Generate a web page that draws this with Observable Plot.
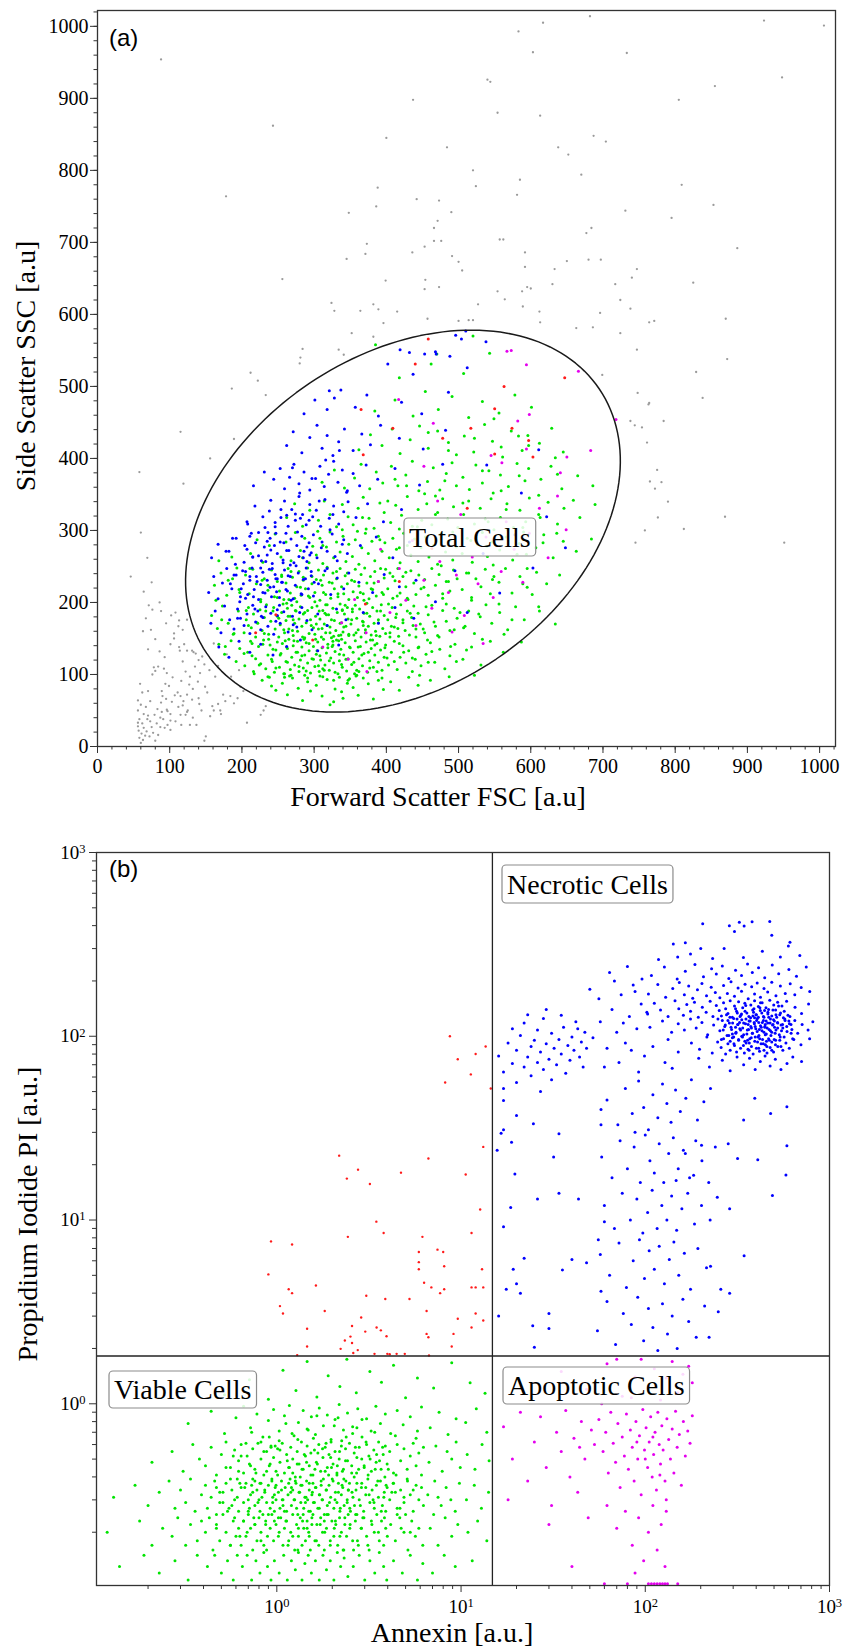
<!DOCTYPE html>
<html>
<head>
<meta charset="utf-8">
<script src="https://cdn.jsdelivr.net/npm/d3@7"></script>
<script src="https://cdn.jsdelivr.net/npm/@observablehq/plot@0.6"></script>
<style>
  html, body { margin: 0; padding: 0; background: #fff; }
  #chart svg { display: block; }
</style>
</head>
<body>
<div id="chart"></div>
<script>
// ---------------- DATA ----------------
// Panel (a): FSC / SSC, flat [x, y, x, y, ...] in a.u.
const fscTicks = [0, 100, 200, 300, 400, 500, 600, 700, 800, 900, 1000];
const sscTicks = [0, 100, 200, 300, 400, 500, 600, 700, 800, 900, 1000];
const totalGate = [423, 313, 328, 231, 34]; // centre x, centre y, semi-axis a, semi-axis b, tilt (deg)

const debrisA = [
71,196,76,190,86,200,70,135,102,182,108,186,113,175,112,167,124,176,106,157,101,142,113,138,114,133,124,133,120,142,131,133,133,131,136,129,145,125,140,120,106,150,
78,110,84,111,80,105,76,100,92,108,96,102,59,87,62,75,70,77,89,77,90,70,94,87,73,63,56,64,56,50,64,45,70,43,58,38,56,33,62,32,56,28,64,26,69,38,73,35,87,40,91,38,89,48,96,51,82,32,87,27,97,30,93,26,101,23,101,36,101,45,97,49,112,55,118,57,119,63,124,48,108,35,116,30,115,44,122,44,125,50,132,40,128,30,137,30,140,67,141,59,144,50,149,83,152,75,159,56,161,50,156,42,167,59,170,50,171,45,174,72,177,63,184,70,189,60,132,80,111,75,115,70,124,72,131,65,148,8,150,14,198,83,202,77,194,67,207,33,226,44,230,50,233,56,
58,12,61,18,57,22,63,9,66,15,60,5,68,21,72,14,77,19,80,8,84,16,75,27,79,44,83,52,67,55,60,58,88,61,95,66,103,62,107,71,99,84,104,96,116,91,122,104,128,97,135,111,142,102,148,114,155,106,163,97,139,90,127,86,118,118,93,124,86,132,80,149,74,162,95,171,88,188,67,178,63,160,64,215,75,228,118,162,161,143,179,128,167,112,185,97,196,106,
58,381,119,365,156,400,115,437,189,427,186,497,212,519,222,508,233,488,60,297,69,262,46,236,
88,954,682,1014,617,1005,923,1008,1006,1001,583,993,603,964,733,963,948,929,540,926,544,923,855,917,437,898,805,898,554,880,613,876,243,862,687,848,704,840,400,845,484,832,638,832,652,822,520,800,670,794,585,787,524,778,388,776,809,780,178,764,581,766,442,760,473,758,853,752,386,750,490,742,348,741,731,744,471,730,795,734,684,720,466,720,677,713,557,704,562,704,466,702,476,702,373,698,453,694,886,692,436,686,592,686,371,684,345,677,491,681,500,673,650,674,680,676,697,676,592,666,505,661,633,663,747,663,740,651,256,649,399,647,454,648,717,642,630,642,825,644,473,638,595,638,600,636,588,632,554,632,453,635,564,621,724,620,324,616,382,614,527,614,328,605,364,605,389,607,415,604,589,611,612,604,738,608,696,602,457,594,870,594,764,589,771,591,396,588,500,591,514,592,520,592,613,589,686,582,663,581,352,574,382,569,724,574,334,551,341,544,284,552,281,540,280,532,747,551,699,516,872,538,829,520,838,484,763,475,748,491,764,477,784,452,744,446,754,443,738,452,761,422,775,384,772,358,781,367,765,368,
745,283,812,302,869,319,776,318,758,300,790,340,951,283
];

const viableA = [
228,92,241,84,236,97,247,78,
256,88,263,72,270,95,278,81,284,64,291,90,268,99,295,77,259,96,287,99,
303,85,311,70,318,93,322,58,329,80,335,96,340,67,346,88,308,98,327,62,338,76,349,94,
354,82,361,71,368,95,375,87,382,66,389,92,396,79,358,98,
406,90,418,78,431,96,444,85,461,92,487,97,522,99,
168,142,176,128,185,147,192,118,197,136,
204,112,208,131,212,146,216,104,219,122,223,139,226,115,230,148,233,108,236,127,239,141,242,118,245,103,247,134,249,145,214,126,
252,110,254,129,256,143,258,101,261,118,263,136,265,149,267,107,269,124,271,140,273,113,275,131,277,146,279,104,281,120,283,138,285,109,287,127,289,144,291,116,293,133,295,102,297,122,299,139,260,147,286,149,
301,111,303,128,305,145,307,104,309,120,311,137,313,149,315,113,317,130,319,142,321,106,323,123,325,139,327,116,329,132,331,148,333,101,335,119,337,135,339,110,341,127,343,144,345,105,347,122,349,138,326,146,312,108,338,149,
352,114,354,131,357,147,359,106,362,122,364,139,367,112,369,129,372,145,374,103,377,119,379,136,382,110,384,127,387,143,389,117,392,134,394,106,397,124,399,141,356,101,381,148,
403,113,407,131,411,146,415,107,419,124,423,140,427,116,431,133,436,104,440,121,445,138,448,112,
455,128,461,144,467,117,474,135,481,108,488,126,495,142,506,121,518,138,531,113,544,146,562,131,587,145,
158,182,166,164,173,195,181,171,188,156,195,188,
203,158,206,176,209,193,213,165,216,184,219,152,222,171,225,190,228,161,231,179,234,197,237,156,240,174,243,188,246,163,249,181,
251,152,253,169,255,186,257,198,259,158,261,175,263,192,265,163,267,181,269,196,271,154,273,171,275,188,277,160,279,177,281,194,283,167,285,184,287,151,289,172,291,189,293,157,295,176,297,193,299,165,262,199,
301,156,302,181,304,195,306,163,308,177,310,152,312,189,314,170,316,158,318,197,320,183,322,166,324,151,326,192,328,175,330,161,332,186,334,154,336,198,338,172,340,159,342,184,344,167,346,193,348,156,303,170,315,185,327,153,339,190,347,177,
351,170,353,187,355,155,357,196,359,178,361,162,363,191,365,152,367,174,369,185,371,158,373,199,375,167,377,181,379,155,381,193,383,171,385,160,387,188,389,176,391,153,393,197,395,164,397,182,399,157,368,168,
402,176,405,158,408,193,411,166,414,184,417,153,420,197,423,172,426,161,429,188,432,155,435,179,438,195,441,163,444,185,447,170,
453,158,458,183,463,196,468,167,473,152,478,189,483,174,488,161,494,192,498,178,
507,165,514,188,522,157,530,180,538,197,546,171,557,186,568,162,579,194,591,176,612,188,634,170,
162,224,171,241,179,210,187,233,196,218,
205,238,210,212,215,246,220,226,226,204,231,233,236,217,241,245,245,208,249,229,
252,216,255,238,258,204,261,227,264,247,267,213,270,235,273,206,276,222,279,243,282,210,285,231,288,219,291,248,294,207,297,236,
301,214,303,232,306,245,308,203,311,224,313,238,316,211,318,249,321,228,323,206,326,241,328,219,331,233,333,208,336,247,338,222,341,212,343,237,346,226,348,204,
352,231,354,215,357,246,360,207,362,223,365,239,368,212,370,248,373,227,376,205,378,236,381,218,384,243,386,209,389,229,392,247,394,214,397,234,
402,219,405,241,409,206,412,230,416,247,419,213,423,236,427,222,430,204,434,244,438,227,441,211,445,238,448,219,
453,232,458,210,463,247,468,224,473,239,478,206,483,229,488,216,493,245,498,233,
505,218,511,241,518,207,524,233,531,222,537,246,544,212,549,236,556,228,565,247,574,213,585,236,595,221,608,242,622,226,640,238,
212,268,221,287,229,256,238,279,246,295,
254,263,261,284,268,258,274,297,281,272,287,289,293,255,298,278,
303,266,308,289,312,254,317,277,322,298,327,262,331,284,336,270,340,292,344,257,348,281,305,299,
353,264,357,287,362,253,366,276,371,296,375,268,380,285,384,258,389,292,394,271,398,283,360,299,
404,262,409,289,414,274,419,255,424,296,429,279,434,266,439,288,444,257,448,276,
454,291,459,263,465,279,471,253,476,296,482,270,487,285,492,259,497,277,
505,268,512,289,519,256,526,281,533,297,540,264,546,284,548,252,
557,273,566,291,575,259,584,282,594,267,590,298,607,276,618,294,631,262,645,285,663,271,684,288,
262,318,273,337,284,306,294,328,
306,314,314,341,322,322,331,305,339,336,347,319,
354,308,361,331,368,346,376,317,383,303,391,338,397,325,372,302,
406,311,413,335,421,321,429,347,436,306,444,329,449,314,418,302,
456,337,463,308,471,325,478,344,485,316,493,333,499,304,468,348,
507,322,514,341,522,309,530,331,537,316,545,344,549,301,
558,318,567,337,576,304,585,328,593,312,598,345,611,322,624,339,637,309,646,331,668,318,689,336,
311,367,328,384,342,359,356,373,365,392,377,358,386,381,395,366,
407,389,416,362,427,377,436,396,445,355,412,371,
457,368,465,387,474,356,483,379,491,394,497,362,
506,374,515,357,524,391,533,366,542,383,548,352,
558,377,569,361,581,393,592,369,597,386,614,371,628,389,643,358,665,376,686,362,
362,412,378,433,394,418,408,441,419,407,433,426,446,445,
458,414,471,438,486,422,497,405,508,431,521,409,536,447,547,424,
559,416,573,438,588,411,596,432,612,421,629,442,645,409,
384,466,412,481,437,459,454,493,472,468,491,486,514,457,533,479,556,463,578,488,601,471,
418,512,462,531,507,518,543,546,385,558,470,545,520,570,
224,113,231,157,238,96,226,201,243,135,251,178,236,224,229,142,247,109,255,236,233,188,241,121,258,162,221,172,249,207,237,149,253,127,228,231,244,193,259,101,
263,117,271,176,266,98,284,152,292,209,277,131,268,243,289,105,296,168,274,189,262,138,281,221,293,143,270,161,287,186,265,204,299,121,279,111,285,235,272,147,291,95,276,201,264,181,297,226,283,126,
304,133,312,97,318,168,326,141,333,212,307,188,321,119,337,155,309,231,329,103,316,197,302,149,335,128,324,176,311,164,339,189,306,112,331,243,319,137,327,92,313,214,336,171,301,201,322,158,338,114,317,183,308,126,334,147,325,227,314,106,
344,121,352,176,361,138,369,203,377,109,348,154,356,229,366,127,373,185,343,196,359,99,371,162,350,137,364,214,378,148,346,241,355,117,368,173,375,131,353,191,341,166,362,104,379,219,358,158,347,92,
384,141,392,188,401,123,409,236,416,164,387,104,396,211,405,152,413,179,383,227,398,137,411,118,389,172,403,198,418,143,394,95,407,167,386,154,415,209,399,246,
424,131,433,185,441,152,452,221,458,117,427,242,437,168,446,99,455,194,429,206,444,137,451,163,436,123,423,176,457,148,
466,173,478,212,489,139,502,186,514,241,471,154,486,229,497,118,509,167,518,203,463,132,483,198,494,162,511,134,476,251,
528,184,547,232,563,156,581,267,602,211,539,278,556,198,574,176,595,247,617,283,533,149,568,301,589,226,611,194,
164,203,172,176,181,231,189,157,197,214,206,189,214,143,168,258,186,263,203,129,211,247,177,139,193,248,217,101,209,168,
284,262,312,279,339,301,367,318,391,287,418,276,443,305,468,322,492,298,517,286,541,312,566,329,589,304,613,318,636,296,659,342,402,341,428,362,453,351,481,369,506,338,533,383,559,355,584,376,611,349,637,378,486,411,522,428,561,402,597,418,634,401,458,436,549,455,583,431
];

const necroticA = [
168,138,182,124,196,146,211,131,226,142,243,127,262,139,281,148,305,133,334,141,
157,171,163,188,171,158,176,195,183,176,189,163,194,191,198,178,
203,168,207,184,211,157,215,196,219,173,222,188,226,162,229,179,233,194,236,167,240,185,244,156,247,174,249,190,
253,171,258,187,264,159,270,181,276,166,283,193,290,175,297,162,
305,184,318,168,331,191,344,176,368,186,389,171,412,193,438,178,
154,214,161,236,167,205,173,227,179,247,186,219,192,238,198,208,
202,226,205,243,208,211,211,231,214,248,217,218,220,236,223,204,226,225,229,242,232,213,235,231,238,246,241,208,244,222,246,239,248,215,249,233,
252,207,256,228,259,245,263,216,267,236,271,205,274,224,278,241,282,212,285,232,289,248,292,219,296,237,299,209,
306,226,315,244,323,211,332,234,341,219,348,241,362,228,381,214,397,239,418,222,441,231,
158,262,167,281,178,271,192,289,
203,256,207,274,211,292,215,263,219,283,223,297,227,258,231,277,235,266,239,289,242,254,245,279,247,296,249,268,
253,284,257,259,261,296,265,272,268,288,272,255,276,279,279,264,283,292,286,271,290,257,293,283,296,269,299,294,
304,262,311,284,318,271,325,295,332,258,339,281,346,268,364,279,386,291,409,262,432,284,
207,312,218,334,229,319,240,342,246,305,238,327,
254,318,259,341,264,306,269,329,274,314,279,347,284,322,289,308,294,336,298,319,
303,328,309,306,315,343,321,317,327,334,334,309,341,326,347,340,358,318,374,337,396,312,421,329,
216,362,231,381,244,371,253,386,259,358,266,374,272,392,279,365,286,381,294,356,
302,372,308,389,314,361,320,378,327,396,333,367,339,384,346,355,354,379,363,362,372,391,388,371,412,386,446,363,478,392,
262,418,271,437,283,408,294,429,304,446,311,414,318,432,326,404,334,423,342,441,
354,411,366,434,378,419,392,446,418,428,451,413,482,439,
286,462,301,481,318,468,337,495,321,494,328,484,357,471,373,488,389,459,421,478,449,462,486,492,
402,531,437,517,468,548,496,571,512,526,538,562,510,577,504,566,453,545,488,542,469,545,419,551,432,547,
468,201,495,244,512,186,534,268,557,213,578,294,603,248,622,319,648,276,587,352,539,391,611,412,
184,226,191,253,197,201,204,279,211,236,218,191,223,265,229,214,236,297,242,247,249,182,255,228,262,272,268,203,275,251,281,317,288,233,294,266,187,289,194,178,201,244,208,309,215,263,221,229,227,181,233,257,239,221,246,311,252,196,258,283,264,237,271,169,277,298,283,211,290,277,296,243,182,271,199,219,213,296,226,248,240,273,254,329,267,252,280,186,293,314,205,206,232,304,247,233,261,218,274,323,189,238,216,208,235,285,257,255,285,262,300,228,310,276,322,301,318,247,329,264,341,287,307,341,326,322,345,353,297,372,316,398,335,411,280,352,262,321,270,387
];

const apoptoticA = [
312,138,338,172,356,204,372,158,389,229,405,186,418,247,427,203,441,168,452,231,463,192,474,257,486,214,497,238,508,182,519,263,527,226,538,291,548,207,559,243,566,312,577,274,589,228,598,296,612,331,624,262,637,348,649,301,471,341,452,389,503,322,545,404,436,286,392,274,582,452,650,402,347,121,373,104,491,159,534,143,
417,482,465,449,598,461,683,411,666,521,718,454,641,380,560,394,594,413,567,549,573,550,594,530
];

const piOnlyA = [
647,512,563,500,550,469,365,468,409,442,478,428,368,405,517,442,574,442,597,425,603,402,550,406,458,566,440,531,
298,148,247,183,371,198,418,229,463,275,512,331,219,158
];

// Panel (b): Annexin / PI, flat [x, y, ...] in a.u. (log axes)
const decadeTicks = [1, 10, 100, 1000];
const quadrantGate = [14.8, 1.82]; // Annexin threshold, PI threshold

const viableB = [
0.52,1.12,0.71,1.35,0.9,1.06,1.08,1.52,1.27,1.18,1.46,1.7,1.65,1.09,1.9,1.42,2.2,1.24,2.4,1.75,2.7,1.15,3.2,1.5,3.7,1.31,4.3,1.62,5.0,1.08,5.8,1.38,7.1,1.22,8.9,1.67,11.2,1.3,13.5,1.14,
0.33,0.78,0.44,0.91,0.52,0.69,0.6,0.84,0.66,0.97,0.72,0.74,0.78,0.88,0.84,0.66,0.9,0.81,0.96,0.93,
1.03,0.71,1.1,0.86,1.17,0.98,1.24,0.67,1.31,0.79,1.39,0.92,1.46,0.73,1.54,0.85,
1.62,0.68,1.7,0.95,1.79,0.76,1.88,0.87,1.97,0.64,2.07,0.82,2.18,0.99,2.3,0.72,2.42,0.89,
2.58,0.75,2.75,0.94,2.9,0.66,3.07,0.83,3.25,0.71,3.45,0.97,3.65,0.78,3.88,0.88,
4.15,0.69,4.5,0.92,4.85,0.77,5.3,0.85,5.7,0.65,6.1,0.96,6.8,0.74,7.6,0.9,8.5,0.68,9.4,0.83,10.6,0.79,12.1,0.94,13.8,0.7,
0.21,0.48,0.27,0.55,0.31,0.43,0.35,0.6,0.38,0.5,
0.41,0.46,0.44,0.58,0.47,0.41,0.5,0.53,0.53,0.62,0.56,0.45,0.59,0.56,0.62,0.49,
0.64,0.6,0.66,0.42,0.69,0.52,0.71,0.47,0.74,0.57,0.76,0.44,0.79,0.61,0.82,0.5,0.85,0.41,0.88,0.55,0.91,0.46,0.93,0.59,0.96,0.51,0.99,0.43,
1.01,0.57,1.04,0.48,1.07,0.61,1.1,0.42,1.13,0.53,1.16,0.45,1.19,0.58,1.22,0.5,1.26,0.4,1.29,0.55,1.32,0.47,1.36,0.62,1.39,0.44,1.43,0.52,1.46,0.59,1.5,0.46,1.53,0.54,1.57,0.41,
1.6,0.56,1.64,0.48,1.69,0.6,1.73,0.43,1.78,0.51,1.83,0.58,1.88,0.45,1.92,0.53,1.97,0.62,2.02,0.47,2.07,0.55,2.12,0.41,2.18,0.5,2.24,0.59,2.3,0.44,2.36,0.57,2.42,0.49,2.48,0.61,
2.55,0.46,2.63,0.54,2.71,0.42,2.8,0.58,2.89,0.5,2.98,0.45,3.07,0.6,3.16,0.52,3.26,0.43,3.36,0.56,3.46,0.48,3.57,0.62,3.68,0.44,3.78,0.53,3.88,0.59,3.97,0.47,
4.1,0.55,4.3,0.42,4.5,0.6,4.7,0.49,4.9,0.57,5.1,0.44,5.3,0.52,5.5,0.61,5.7,0.46,5.9,0.54,6.1,0.41,6.25,0.58,
6.7,0.48,7.3,0.59,7.9,0.43,8.4,0.55,8.9,0.5,9.4,0.62,9.9,0.45,10.8,0.53,11.9,0.44,13.0,0.6,14.2,0.49,
0.13,0.31,0.17,0.36,0.2,0.28,0.23,0.33,
0.26,0.38,0.28,0.27,0.3,0.34,0.32,0.29,0.34,0.39,0.36,0.26,0.39,0.32,
0.41,0.36,0.42,0.27,0.44,0.31,0.46,0.38,0.47,0.25,0.49,0.33,0.51,0.29,0.53,0.37,0.55,0.27,0.57,0.34,0.59,0.3,0.61,0.39,0.62,0.26,
0.64,0.35,0.66,0.29,0.68,0.37,0.7,0.26,0.72,0.32,0.74,0.39,0.76,0.28,0.78,0.34,0.8,0.3,0.82,0.37,0.84,0.25,0.86,0.33,0.88,0.29,0.9,0.36,0.92,0.27,0.94,0.38,0.95,0.31,0.97,0.26,0.98,0.35,0.99,0.3,
1.02,0.33,1.04,0.27,1.06,0.38,1.08,0.3,1.11,0.35,1.13,0.26,1.15,0.32,1.18,0.39,1.2,0.28,1.22,0.34,1.25,0.3,1.27,0.37,1.3,0.25,1.32,0.33,1.35,0.29,1.37,0.36,1.4,0.27,1.42,0.31,1.45,0.38,1.47,0.3,1.5,0.34,1.52,0.26,1.55,0.32,1.57,0.37,
1.6,0.29,1.63,0.35,1.67,0.27,1.7,0.32,1.74,0.38,1.77,0.3,1.81,0.25,1.85,0.34,1.88,0.28,1.92,0.36,1.96,0.31,2.0,0.39,2.04,0.27,2.08,0.33,2.12,0.29,2.16,0.37,2.2,0.26,2.24,0.32,2.28,0.35,2.32,0.28,2.37,0.38,2.41,0.3,2.45,0.34,2.49,0.27,
2.56,0.33,2.64,0.28,2.72,0.37,2.8,0.3,2.88,0.35,2.96,0.26,3.04,0.32,3.12,0.39,3.2,0.29,3.29,0.34,3.38,0.27,3.47,0.36,3.56,0.31,3.65,0.38,3.74,0.28,3.83,0.33,3.9,0.26,3.97,0.35,2.68,0.25,3.33,0.3,
4.1,0.3,4.3,0.37,4.5,0.27,4.7,0.34,4.9,0.29,5.1,0.39,5.3,0.32,5.5,0.26,5.7,0.36,5.9,0.3,6.1,0.35,6.25,0.28,4.4,0.33,5.0,0.25,
6.6,0.32,7.2,0.38,7.8,0.28,8.3,0.35,8.8,0.3,9.3,0.26,9.8,0.37,7.5,0.31,10.7,0.3,11.8,0.36,12.9,0.27,14.1,0.33,
0.12,0.2,0.18,0.23,0.21,0.17,0.24,0.21,
0.27,0.19,0.29,0.24,0.32,0.17,0.34,0.22,0.37,0.18,0.39,0.23,
0.41,0.2,0.43,0.24,0.45,0.16,0.47,0.22,0.49,0.18,0.51,0.25,0.53,0.2,0.56,0.17,0.58,0.23,0.6,0.19,0.62,0.21,
0.64,0.17,0.66,0.23,0.68,0.19,0.7,0.25,0.72,0.21,0.74,0.16,0.76,0.22,0.78,0.18,0.8,0.24,0.82,0.2,0.85,0.17,0.87,0.23,0.89,0.19,0.92,0.21,0.94,0.25,0.96,0.18,0.99,0.22,
1.02,0.19,1.05,0.24,1.08,0.17,1.1,0.21,1.13,0.23,1.16,0.18,1.19,0.2,1.22,0.25,1.25,0.16,1.28,0.22,1.31,0.19,1.34,0.24,1.37,0.17,1.4,0.21,1.43,0.18,1.46,0.23,1.49,0.2,1.52,0.16,1.55,0.22,1.57,0.25,
1.61,0.18,1.65,0.22,1.69,0.17,1.73,0.24,1.77,0.2,1.81,0.16,1.86,0.21,1.9,0.25,1.95,0.18,1.99,0.23,2.04,0.19,2.09,0.22,2.14,0.17,2.19,0.24,2.24,0.2,2.29,0.16,2.34,0.22,2.39,0.19,2.44,0.25,2.49,0.21,
2.58,0.18,2.67,0.23,2.77,0.17,2.87,0.21,2.97,0.24,3.07,0.19,3.17,0.16,3.28,0.22,3.38,0.2,3.49,0.25,3.6,0.18,3.7,0.23,3.8,0.17,3.9,0.21,3.98,0.19,2.72,0.25,
4.15,0.22,4.4,0.18,4.65,0.24,4.9,0.2,5.15,0.16,5.4,0.23,5.65,0.19,5.9,0.21,6.2,0.17,4.5,0.25,5.3,0.2,
6.8,0.21,7.5,0.17,8.2,0.24,8.9,0.19,9.6,0.22,7.1,0.25,10.9,0.2,12.3,0.23,13.8,0.18,
0.14,0.13,0.19,0.15,0.23,0.12,0.28,0.14,0.33,0.11,0.37,0.15,
0.42,0.13,0.46,0.15,0.5,0.12,0.54,0.14,0.58,0.11,0.61,0.15,
0.65,0.13,0.69,0.15,0.73,0.11,0.77,0.14,0.81,0.12,0.85,0.155,0.89,0.13,0.93,0.11,0.97,0.14,
1.03,0.12,1.09,0.15,1.14,0.11,1.2,0.14,1.26,0.125,1.31,0.155,1.37,0.11,1.42,0.135,1.48,0.15,1.54,0.12,
1.62,0.14,1.7,0.11,1.78,0.15,1.86,0.125,1.95,0.14,2.04,0.11,2.13,0.155,2.22,0.13,2.32,0.145,2.43,0.115,
2.6,0.13,2.8,0.15,3.0,0.11,3.2,0.14,3.4,0.12,3.6,0.155,3.8,0.13,3.95,0.11,
4.3,0.14,4.8,0.12,5.3,0.15,5.8,0.11,6.2,0.135,7.0,0.12,8.1,0.15,9.3,0.13,11.5,0.14,
0.83,0.31,1.37,0.44,2.21,0.27,0.64,0.52,1.74,0.36,3.13,0.41,1.12,0.23,0.47,0.35,2.67,0.58,1.58,0.29,0.92,0.47,4.21,0.33,1.26,0.38,2.05,0.21,0.71,0.27,3.61,0.49,1.83,0.43,0.56,0.39,2.44,0.34,1.04,0.56,
1.49,0.26,0.77,0.42,2.93,0.24,1.19,0.33,5.12,0.38,0.61,0.31,1.96,0.51,3.37,0.29,0.87,0.22,1.66,0.47,2.31,0.39,0.99,0.36,4.66,0.27,1.41,0.53,0.53,0.45,2.78,0.44,1.08,0.28,3.92,0.36,1.71,0.32,0.68,0.61,
2.13,0.46,1.31,0.21,0.81,0.37,2.59,0.31,1.53,0.41,3.48,0.53,0.95,0.29,1.87,0.25,0.59,0.24,2.36,0.49,1.17,0.45,4.03,0.44,1.62,0.35,0.74,0.33,2.89,0.37,1.28,0.27,0.49,0.29,2.16,0.33,1.01,0.41,3.26,0.23,
1.79,0.39,0.85,0.55,2.51,0.26,1.44,0.31,0.63,0.37,3.81,0.31,1.14,0.49,1.93,0.29,0.72,0.46,2.72,0.51,1.35,0.36,0.9,0.25,4.44,0.41,1.67,0.54,2.27,0.43,0.57,0.28,1.06,0.34,3.04,0.35,1.55,0.24,0.79,0.29,
2.02,0.38,1.22,0.42,0.66,0.23,2.63,0.4,1.45,0.48,3.53,0.38,0.97,0.32,1.86,0.34,0.51,0.33,2.41,0.29,1.1,0.26,4.9,0.31,1.7,0.27,0.76,0.38,2.98,0.46,1.33,0.33,0.88,0.43,2.19,0.55,1.02,0.24,3.69,0.26,
1.61,0.44,0.7,0.3,2.48,0.37,1.24,0.3,0.58,0.52,3.17,0.32,1.91,0.41,0.94,0.39,2.84,0.28,1.39,0.25,0.81,0.26,4.28,0.37,1.76,0.3,2.34,0.24,0.62,0.43,1.16,0.37,3.42,0.44,1.5,0.37,0.73,0.36,2.07,0.3,
1.29,0.47,0.86,0.34,2.69,0.34,1.56,0.33,3.86,0.4,1.07,0.3,1.98,0.45,0.54,0.26,2.55,0.42,1.2,0.35,0.67,0.35,3.21,0.5,1.81,0.23,2.26,0.36,0.93,0.58,1.43,0.29,5.5,0.34,0.75,0.24,2.12,0.42,1.34,0.4,
0.63,0.19,1.15,0.17,1.82,0.2,2.74,0.18,0.88,0.16,1.46,0.21,2.31,0.16,3.56,0.2,0.47,0.21,1.03,0.2,1.64,0.18,2.5,0.22,0.76,0.22,1.3,0.16,2.08,0.23,3.12,0.17,4.73,0.21,0.56,0.17,0.97,0.23,1.72,0.22,2.88,0.21,1.22,0.19,0.69,0.2,1.95,0.17,3.84,0.24,1.5,0.19,2.2,0.19,0.82,0.18,1.38,0.23,2.61,0.16,
0.91,0.66,1.48,0.72,2.25,0.63,3.4,0.7,1.12,0.78,1.85,0.61,2.9,0.82,0.73,0.7,1.3,0.64,2.05,0.76,4.4,0.67,1.65,0.86,2.58,0.69,0.98,0.59,3.75,0.58,1.21,0.69,2.38,0.66,1.77,0.57,0.82,0.62,3.05,0.62,5.8,0.71,1.58,0.65,2.15,0.84,1.03,0.63,2.72,0.74
];

const necroticB = [
118,262,142,318,176,280,205,410,232,265,268,300,305,372,341,268,380,420,432,290,486,355,541,270,598,310,690,275,
286,400,324,417,344,398,474,421,165,323,610,325,200,300,150,270,
108,214,127,238,149,205,165,226,186,246,207,211,229,233,243,218,262,241,284,206,309,229,333,214,359,247,381,222,412,236,445,208,489,244,530,219,602,231,662,212,748,238,
104,170,117,191,129,163,141,182,153,196,163,168,172,188,181,161,192,179,203,194,215,166,228,185,240,173,254,162,266,189,279,171,292,198,305,165,319,183,333,176,348,192,362,160,378,186,392,170,405,195,422,163,441,182,462,174,486,197,512,166,541,188,575,171,612,193,648,168,702,184,781,175,
103,132,112,151,121,139,133,128,145,156,152,141,161,130,168,149,176,137,185,153,194,127,204,144,214,135,225,155,233,128,243,147,252,138,259,129,266,152,273,141,281,133,289,156,297,127,305,146,313,137,321,154,330,130,338,143,347,151,356,134,365,128,374,148,383,139,392,156,401,131,411,145,421,138,431,152,441,127,452,143,463,135,474,157,486,129,498,148,510,139,523,153,537,131,552,146,568,137,585,155,610,128,650,144,705,133,770,150,
106,112,124,121,139,105,151,117,163,108,176,124,189,111,203,119,218,102,235,115,254,107,262,122,270,113,278,101,286,118,294,109,302,125,310,104,318,116,326,110,334,123,342,102,350,117,358,108,366,121,374,113,382,104,390,119,398,110,406,125,414,101,422,114,430,107,438,122,446,112,454,103,462,118,470,109,478,124,486,105,494,116,502,121,512,108,522,119,534,102,546,115,558,111,572,124,588,106,606,117,625,109,648,122,672,104,710,116,765,108,812,120,
110,88,133,96,151,82,178,92,197,85,216,99,231,81,247,93,258,87,266,97,273,80,281,91,289,84,297,98,305,89,313,82,321,95,329,86,337,99,345,81,353,92,361,85,369,97,377,88,385,80,393,94,401,86,409,99,417,83,425,91,433,96,441,84,449,90,458,81,467,97,476,87,486,93,497,82,510,95,524,88,540,99,558,84,580,92,605,86,640,96,700,90,780,97,
128,72,195,76,223,68,262,74,289,65,315,77,342,70,368,76,395,66,421,73,447,78,476,69,508,75,545,66,588,71,632,77,705,73,140,67,
342,118,418,97,276,131,503,112,389,141,457,88,311,105,562,126,367,92,429,134,298,118,481,101,351,147,537,95,402,122,265,108,448,116,619,104,327,128,493,139,377,111,289,94,524,118,413,86,356,103,468,127,309,141,586,113,395,99,441,105,
281,122,512,131,366,84,432,119,321,96,549,107,384,129,459,111,303,91,497,123,348,137,602,121,416,109,272,115,471,95,338,111,529,146,391,117,444,138,315,124,567,99,373,126,486,84,297,103,422,152,359,95,507,104,333,132,453,121,407,93,
395,113,288,127,476,118,364,109,542,134,318,116,437,91,501,96,352,124,419,143,284,101,463,132,376,98,523,111,341,89,411,127,595,130,309,112,448,102,387,135,
259,96,618,116,545,88,426,112,334,100,491,115,371,121,455,94,316,134,574,122,405,106,292,112,517,127,347,94,438,128,381,104,467,140,325,119,556,116,399,131,
631,97,248,124,478,107,362,116,413,119,329,108,509,90,392,126,446,113,302,99,
16,78,17,64,18,92,19,71,20,56,20,84,21,101,22,68,22,118,23,77,24,88,24,61,25,95,26,72,26,108,27,82,28,66,28,125,29,91,30,75,31,104,31,58,32,86,33,70,34,96,35,80,36,112,37,63,38,89,39,74,40,99,41,84,42,120,44,77,45,93,46,68,47,105,48,86,19,110,23,131,29,140,35,130,43,110,17,52,27,50,
52,98,57,120,62,86,66,140,70,105,74,168,78,92,82,128,86,190,90,110,95,150,99,78,56,160,64,222,72,72,80,240,88,175,96,205,60,68,84,84,102,135,50,180,76,118,92,64,68,200,
62,45,71,33,78,52,85,38,92,57,98,41,104,31,110,48,117,36,124,55,131,43,138,34,146,51,155,39,166,46,178,58,192,35,208,44,226,52,88,30,
58,22,66,17,73,27,80,19,87,25,94,16,100,29,106,21,112,18,119,26,126,16,134,23,142,28,151,19,161,24,174,17,188,27,203,21,221,16,240,25,
60,12,68,9,75,14,83,10,90,13,97,8.5,103,11,109,14.5,116,9,123,12,131,10,139,13.5,148,8.8,158,11.5,170,14,185,9.5,202,12,225,10,
57,6.5,64,5,72,7.5,79,4.3,86,6,93,7.8,99,4.8,105,6.8,112,5.4,119,7.2,127,4.5,135,6.1,143,7.6,152,5,163,6.6,176,4.2,193,7,215,5.5,
55,2.5,62,3.6,69,2.1,76,3.1,84,2.7,91,3.8,98,2.2,104,3.3,110,2.6,117,1.95,124,3.5,132,2.4,140,3,149,2,160,3.7,172,2.8,189,2.3,210,3.4,
17,9.2,18.6,11.7,19.2,5.4,22,6.2,20,4.5,17.6,4.2,21,4.0,16,3.0,24.5,2.66,30,3.1,30,2.57,25,2.03,35.5,5.35,40,6.1,48,5.85,55.6,7.8,60,9.8,57.5,4.1,
344,6.4,287,4.0,249,3.17,257,4.2,226,5.6,222,2.3,
17,44.7,20,37,17,31,16.5,29.7,24.7,33.4,34,29.5,15.7,24,18.8,26.5,19.6,17.8,31.8,22,34,14,26,13,43.4,13,57.5,33,57.5,40,
587,25.4,580,17.6,587,41.4,479,38,393,46,490,13.6,342,35,408,21.3,317,21.6,282,26,246,13.3,287,11.5,202,25.5,183,17.5,165,23,147,16.4
];

const apoptoticB = [
35,1.5,48,1.2,62,1.65,75,1.1,88,1.4,95,1.75,104,1.25,112,1.55,121,1.05,130,1.38,140,1.7,150,1.15,160,1.45,172,1.6,180,1.3,58,1.0,70,1.75,84,1.08,
56,0.82,59,0.55,61,0.7,63,0.42,65,0.9,67,0.61,69,0.48,71,0.78,73,0.35,75,0.66,77,0.52,79,0.88,81,0.44,83,0.72,85,0.58,87,0.38,89,0.8,91,0.5,93,0.67,95,0.32,97,0.93,99,0.56,101,0.74,103,0.45,105,0.62,107,0.85,109,0.4,111,0.53,113,0.7,115,0.34,117,0.9,119,0.6,121,0.47,123,0.76,125,0.56,128,0.38,131,0.83,134,0.64,137,0.5,140,0.73,143,0.42,146,0.91,149,0.58,153,0.68,157,0.36,161,0.8,165,0.52,170,0.71,175,0.61,180,0.86,110,0.66,100,0.5,120,0.41,90,0.62,130,0.3,
17,0.75,19,0.5,21,0.9,23,0.38,25,0.62,27,0.85,29,0.45,31,0.28,33,0.7,35,0.55,37,0.92,39,0.4,41,0.65,43,0.33,45,0.8,47,0.5,49,0.24,51,0.72,53,0.6,18,0.3,30,0.22,44,0.58,
62,0.28,70,0.21,78,0.26,85,0.17,92,0.24,98,0.14,104,0.2,110,0.28,116,0.16,122,0.22,128,0.13,88,0.12,40,0.13,130,0.26,
104,0.105,108,0.105,112,0.105,116,0.105,120,0.105,124,0.105,128,0.105,132,0.105,60,0.105,80,0.105,150,0.105
];

const piOnlyB = [
2.18,22.4,2.4,16.8,2.76,18.8,3.2,15.7,4.72,18.1,6.65,21.6,10.6,17.7,13.2,25,14.5,52,8.2,56,12.7,11.4,3.47,9.8,3.8,8.5,2.43,8.1,6.17,8.1,11.4,8.5,0.93,7.65,1.21,7.36,0.9,5.06,5.9,6.7,5.9,5.9,5.9,5.4,7.45,6.9,8.0,6.7,8.1,5.6,13,5.4,6.3,4.56,6.9,4.3,7.7,4.0,8.1,4.2,11.4,4.3,12,4.3,13.2,4.3,1.16,4.2,1.21,4.0,1.63,4.4,1.04,3.4,1.08,3.1,1.82,3.2,3.06,3.87,3.88,3.72,5.25,3.72,6.5,3.2,9.6,2.9,11.4,2.6,12,3.1,13.2,2.84,1.46,2.56,1.46,2.05,2.56,2.65,2.51,2.32,2.56,2.14,2.34,2.21,2.22,1.99,2.6,1.89,2.75,1.96,2.87,2.95,3.02,2.47,3.48,2.6,3.67,2.51,3.94,2.33,3.39,1.87,3.98,1.87,4.47,1.87,4.95,1.87,6.5,2.4,6.65,2.3,9.1,2.4,8.9,2.05,6.7,1.83,4.1,1.86,1.29,1.84,
8.7,100,12,80,11.3,62,13.6,88,9.6,75
];

// ---------------- RENDERING ----------------
const serif = "'Liberation Serif', 'Times New Roman', serif";
const sans = "'Liberation Sans', Arial, sans-serif";
const col = {viable: "#00e400", necrotic: "#0000ff", apoptotic: "#e400ee", piOnly: "#ff1a1a", debris: "#9a9a9a"};

function pairs(flat) {
  const out = [];
  for (let i = 0; i + 1 < flat.length; i += 2) out.push({x: flat[i], y: flat[i + 1]});
  return out;
}

const [gcx, gcy, ga, gb, gth] = totalGate;
const thr = gth * Math.PI / 180;
const gatePath = d3.range(0, 361, 2).map(t => {
  const r = t * Math.PI / 180;
  return {
    x: gcx + ga * Math.cos(r) * Math.cos(thr) - gb * Math.sin(r) * Math.sin(thr),
    y: gcy + ga * Math.cos(r) * Math.sin(thr) + gb * Math.sin(r) * Math.cos(thr)
  };
});

const dotR = 1.5;
const minorLin = d3.range(0, 1021, 20);
const plainFmt = d => String(d);

const plotA = Plot.plot({
  width: 854, height: 810,
  marginTop: 10, marginRight: 19, marginBottom: 64, marginLeft: 97,
  style: {fontFamily: serif, fontSize: "20px", color: "#000", background: "#fff", overflow: "visible"},
  x: {domain: [0, 1022], label: null},
  y: {domain: [0, 1022], label: null},
  marks: [
    Plot.dot(pairs(debrisA), {x: "x", y: "y", r: 1.15, fill: col.debris}),
    Plot.dot(pairs(viableA), {x: "x", y: "y", r: dotR, fill: col.viable}),
    Plot.dot(pairs(necroticA), {x: "x", y: "y", r: dotR, fill: col.necrotic}),
    Plot.dot(pairs(apoptoticA), {x: "x", y: "y", r: dotR, fill: col.apoptotic}),
    Plot.dot(pairs(piOnlyA), {x: "x", y: "y", r: dotR, fill: col.piOnly}),
    Plot.line(gatePath, {x: "x", y: "y", stroke: "#1a1a1a", strokeWidth: 1.5}),
    Plot.frame({stroke: "#333", strokeWidth: 1.3}),
    Plot.axisX({ticks: minorLin, tickSize: 3.5, tickFormat: () => "", label: null, stroke: "#333"}),
    Plot.axisX({ticks: fscTicks, tickSize: 7, tickPadding: 5, tickFormat: plainFmt, label: null, stroke: "#333"}),
    Plot.axisY({ticks: minorLin, tickSize: 3.5, tickFormat: () => "", label: null, stroke: "#333"}),
    Plot.axisY({ticks: sscTicks, tickSize: 7, tickPadding: 2, tickFormat: plainFmt, label: null, stroke: "#333"})
  ]
});

const minorLog = [];
for (const p of [0.1, 1, 10, 100]) for (let k = 2; k <= 9; k++) minorLog.push(+(p * k).toPrecision(3));
const expFmt = d => "10^" + Math.round(Math.log10(d));

const plotB = Plot.plot({
  width: 854, height: 841,
  marginTop: 42, marginRight: 25, marginBottom: 66, marginLeft: 96,
  style: {fontFamily: serif, fontSize: "19px", color: "#000", background: "#fff", overflow: "visible"},
  x: {type: "log", domain: [0.105, 1000], label: null},
  y: {type: "log", domain: [0.1026, 1000], label: null},
  marks: [
    Plot.dot(pairs(viableB), {x: "x", y: "y", r: dotR, fill: col.viable}),
    Plot.dot(pairs(piOnlyB), {x: "x", y: "y", r: 1.2, fill: col.piOnly}),
    Plot.dot(pairs(necroticB), {x: "x", y: "y", r: dotR, fill: col.necrotic}),
    Plot.dot(pairs(apoptoticB), {x: "x", y: "y", r: dotR, fill: col.apoptotic}),
    Plot.ruleX([quadrantGate[0]], {stroke: "#222", strokeWidth: 1.3}),
    Plot.ruleY([quadrantGate[1]], {stroke: "#222", strokeWidth: 1.3}),
    Plot.frame({stroke: "#333", strokeWidth: 1.3}),
    Plot.axisX({ticks: minorLog, tickSize: 4, tickFormat: () => "", label: null, stroke: "#333"}),
    Plot.axisX({ticks: decadeTicks, tickSize: 7, tickPadding: 7, tickFormat: expFmt, label: null, stroke: "#333"}),
    Plot.axisY({ticks: minorLog, tickSize: 4, tickFormat: () => "", label: null, stroke: "#333"}),
    Plot.axisY({ticks: decadeTicks, tickSize: 7, tickPadding: 4, tickFormat: expFmt, label: null, stroke: "#333"})
  ]
});

const chart = document.getElementById("chart");
chart.appendChild(plotA);
chart.appendChild(plotB);

// tick labels in the figure's serif face
d3.select(plotA).selectAll("text").attr("font-family", serif).attr("font-size", 20);
d3.select(plotB).selectAll("text").attr("font-family", serif).attr("font-size", 19);

// superscript exponents in tick labels
d3.select(plotB).selectAll("text").each(function () {
  const t = this.textContent;
  if (t.includes("^")) {
    const [base, e] = t.split("^");
    const sel = d3.select(this);
    sel.text(base);
    sel.append("tspan").attr("dy", "-0.45em").attr("font-size", "0.66em").text(e);
  }
});

function addText(svg, str, x, y, opts = {}) {
  const t = d3.select(svg).append("text")
    .attr("x", x).attr("y", y)
    .attr("font-family", opts.family || serif)
    .attr("font-size", opts.size || 28)
    .attr("text-anchor", opts.anchor || "middle")
    .attr("fill", "#000")
    .text(str);
  if (opts.rotate) t.attr("transform", `rotate(${opts.rotate},${x},${y})`);
  return t;
}

function addBox(svg, str, x, y, h) {
  const g = d3.select(svg).append("g");
  const t = g.append("text")
    .attr("x", x + 5).attr("y", y + h / 2 + 9.5)
    .attr("font-family", serif).attr("font-size", 28).attr("fill", "#000")
    .attr("text-anchor", "start")
    .text(str);
  const bb = t.node().getBBox();
  g.insert("rect", "text")
    .attr("x", x).attr("y", y).attr("width", bb.width + 10).attr("height", h)
    .attr("rx", 4).attr("fill", "#fff").attr("fill-opacity", 0.85)
    .attr("stroke", "#8c8c8c").attr("stroke-width", 1.2);
}

// Panel (a) annotations
addText(plotA, "(a)", 109, 46, {family: sans, size: 24, anchor: "start"});
addText(plotA, "Forward Scatter FSC [a.u]", 438, 806);
addText(plotA, "Side Scatter SSC [a.u]", 35, 366, {rotate: -90});
addBox(plotA, "Total Cells", 404, 518, 38);

// Panel (b) annotations
addText(plotB, "(b)", 109, 67, {family: sans, size: 24, anchor: "start"});
addText(plotB, "Annexin [a.u.]", 452, 832);
addText(plotB, "Propidium Iodide PI [a.u.]", 37, 404, {rotate: -90});
addBox(plotB, "Necrotic Cells", 502, 55, 38);
addBox(plotB, "Viable Cells", 109, 561, 37);
addBox(plotB, "Apoptotic Cells", 503, 557, 37);
</script>
</body>
</html>
